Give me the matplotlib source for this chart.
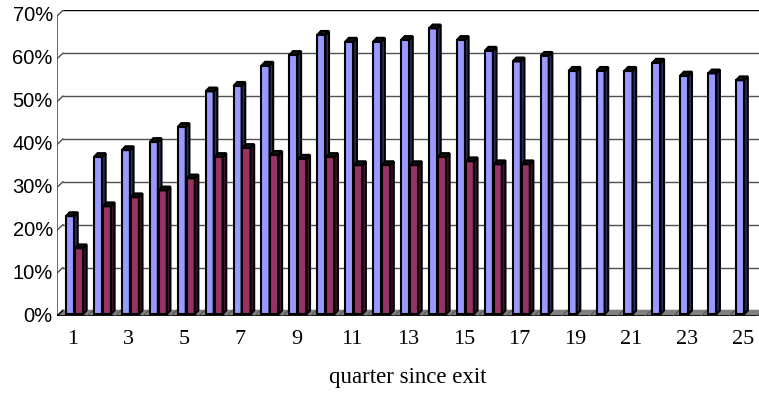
import numpy as np
import matplotlib.pyplot as plt
from matplotlib.patches import Polygon

quarters = np.arange(1, 26)
share_a = [22.9, 36.7, 38.3, 40.2, 43.7, 52.0, 53.3, 58.0, 60.5, 65.2, 63.6, 63.6,
           64.0, 66.7, 64.0, 61.5, 59.0, 60.3, 56.8, 56.8, 56.8, 58.7, 55.7, 56.2, 54.6]
share_b = [15.4, 25.2, 27.3, 28.9, 31.7, 36.7, 38.8, 37.2, 36.3, 36.7, 34.8, 34.8,
           34.8, 36.7, 35.7, 35.0, 35.0]
yticks = np.arange(0, 71, 10)
ytick_labels = ['%d%%' % v for v in yticks]
xtick_pos = np.arange(1, 26, 2)
xlabel = 'quarter since exit'

# fake 3d depth (data units)
DX, DY = 0.13, 0.9         # bars
FDX, FDY = 0.21, 1.3       # floor / walls
BW = 0.29
x0, x1 = 0.427, 25.57

fig = plt.figure(figsize=(7.59, 4), dpi=100)
ax = fig.add_axes([57/759, 0.21, 1 - 57/759, 0.974 - 0.21])
ax.set_xlim(x0, x1)
ax.set_ylim(-FDY, 70)

# walls: gridlines on the back wall, joined to the front axis
for v in yticks:
    col = 'black' if v == 70 else '#505050'
    ax.plot([x0 + FDX, x1], [v, v], color=col, lw=1, zorder=1)
    ax.plot([x0, x0 + FDX], [v - FDY, v], color='#505050', lw=1, zorder=1)
ax.plot([x0, x0], [-FDY, 70 - FDY], color='#505050', lw=1.2, zorder=1)

# floor
floor = Polygon([[x0, -FDY], [x1, -FDY], [x1, 0], [x0 + FDX, 0]], closed=True,
                facecolor='#808080', edgecolor='none', zorder=2)
ax.add_patch(floor)
ax.plot([x0, x1], [-FDY, -FDY], color='black', lw=1.2, zorder=2)
ax.plot([x0, x0 + FDX], [-FDY, 0], color='black', lw=1, zorder=2)
for k in np.arange(1, 26) + 0.5:
    ax.plot([k, k + FDX], [-FDY, 0], color='#555555', lw=0.8, zorder=2)


def bars3d(x, vals, face, side):
    bars = ax.bar(x, vals, width=BW, bottom=-DY, align='edge', color=face,
                  edgecolor='black', linewidth=1.5, zorder=3)
    for b in bars:
        l, w = b.get_x(), b.get_width()
        top = b.get_y() + b.get_height()
        bot = b.get_y()
        ax.add_patch(Polygon([[l + w, bot], [l + w + DX, bot + DY],
                              [l + w + DX, top + DY], [l + w, top]],
                             closed=True, facecolor=side, edgecolor='black',
                             linewidth=1.5, zorder=3))
        ax.add_patch(Polygon([[l, top], [l + DX, top + DY],
                              [l + w + DX, top + DY], [l + w, top]],
                             closed=True, facecolor='#111111', edgecolor='black',
                             linewidth=1.5, zorder=3))
    return bars


for i in range(len(quarters)):
    bars3d([quarters[i] - 0.25], [share_a[i]], '#9999FF', '#2e2e60')
    if i < len(share_b):
        bars3d([quarters[i] + 0.07], [share_b[i]], '#993366', '#3e1428')

# y labels sit on the front edge of the left wall
ax.set_yticks([])
for v, lab in zip(yticks, ytick_labels):
    ax.annotate(lab, (x0, v - FDY), xytext=(-3, 0), textcoords='offset points',
                ha='right', va='center', fontsize=14.5, family='Liberation Sans')

ax.set_xticks(xtick_pos)
ax.set_xticklabels([str(q) for q in xtick_pos], fontsize=16, family='Liberation Serif')
ax.tick_params(axis='x', length=0, pad=10)
ax.set_xlabel(xlabel, fontsize=16.5, family='Liberation Serif', labelpad=13)

for s in ax.spines.values():
    s.set_visible(False)

fig.savefig('out.png', dpi=100)
